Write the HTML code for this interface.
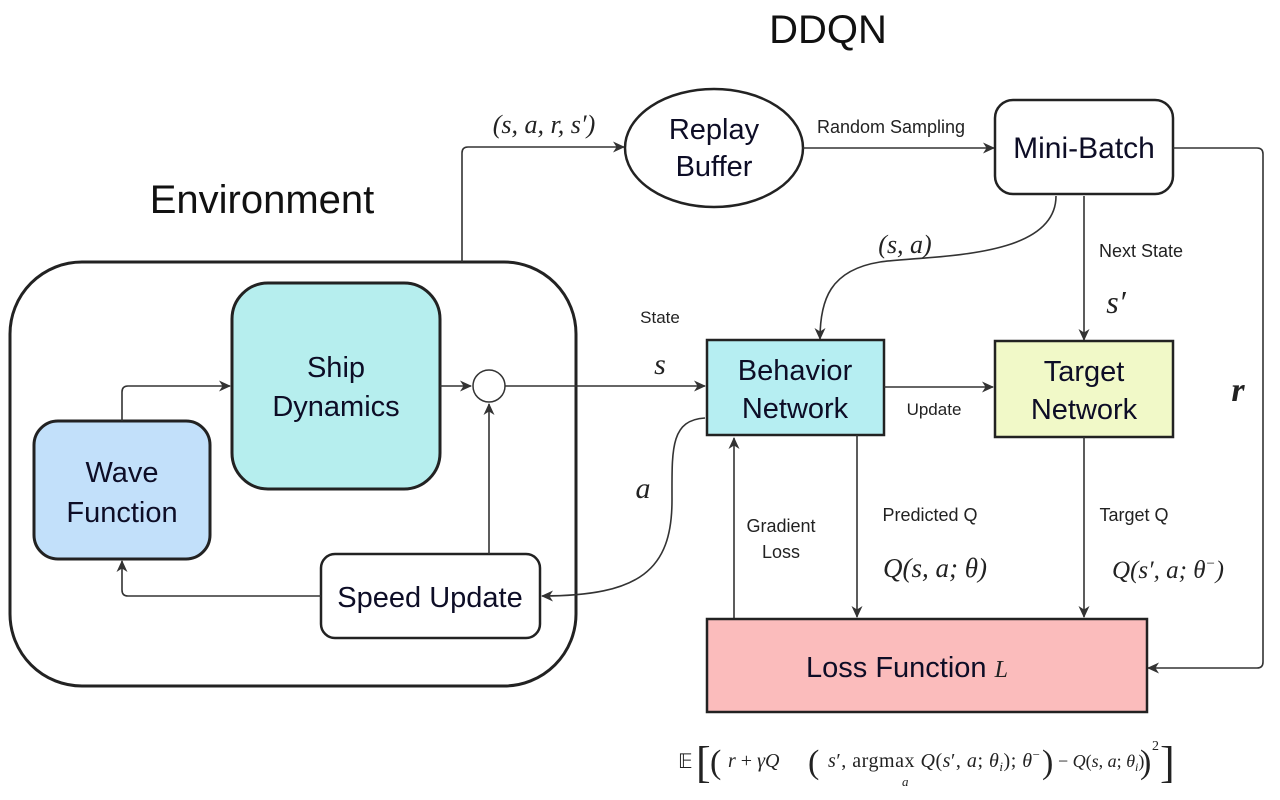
<!DOCTYPE html>
<html><head><meta charset="utf-8"><style>
body{margin:0;background:#fff}
svg{display:block}
.t{font-family:"Liberation Sans",sans-serif;fill:#0d0d26}
.m{font-family:"Liberation Serif",serif;font-style:italic;fill:#222}
</style></head><body>
<svg width="1280" height="800" viewBox="0 0 1280 800" xmlns="http://www.w3.org/2000/svg">
<defs><marker id="a" markerWidth="12" markerHeight="12" refX="11" refY="6" orient="auto" markerUnits="userSpaceOnUse"><path d="M0,0.5 L12,6 L0,11.5 L3.5,6 z" fill="#333"/></marker></defs>
<g stroke="#333" stroke-width="1.6" fill="none">
<rect x="10" y="262" width="566" height="424" rx="72" stroke="#222" stroke-width="3"/>
<rect x="232" y="283" width="208" height="206" rx="36" fill="#b6eeee" stroke="#222" stroke-width="3"/>
<rect x="34" y="421" width="176" height="138" rx="24" fill="#c2e0fa" stroke="#222" stroke-width="3"/>
<circle cx="489" cy="386" r="16" fill="#fff" stroke="#333" stroke-width="1.5"/>
<rect x="321" y="554" width="219" height="84" rx="14" fill="#fff" stroke="#222" stroke-width="2.5"/>
<path d="M122 421 V392 Q122 386 128 386 H230" marker-end="url(#a)"/>
<path d="M440 386 H471" marker-end="url(#a)"/>
<path d="M489 554 V404" marker-end="url(#a)"/>
<path d="M321 596 H128 Q122 596 122 590 V561" marker-end="url(#a)"/>
<path d="M505 386 H705" marker-end="url(#a)"/>
<path d="M462 262 V153 Q462 147 468 147 H624" marker-end="url(#a)"/>
<ellipse cx="714" cy="148" rx="89" ry="59" fill="#fff" stroke="#222" stroke-width="2.5"/>
<path d="M803 148 H994" marker-end="url(#a)"/>
<rect x="995" y="100" width="178" height="94" rx="18" fill="#fff" stroke="#222" stroke-width="2.5"/>
<path d="M1173 148 H1257 Q1263 148 1263 154 V662 Q1263 668 1257 668 H1148" marker-end="url(#a)"/>
<path d="M1056 196 C1056 260 930 255 880 262 C830 270 820 300 820 339" marker-end="url(#a)"/>
<path d="M1084 196 V340" marker-end="url(#a)"/>
<rect x="707" y="340" width="177" height="95" fill="#b6eef2" stroke="#222" stroke-width="2.5"/>
<rect x="995" y="341" width="178" height="96" fill="#f1f9c8" stroke="#222" stroke-width="2.5"/>
<path d="M884 387 H993" marker-end="url(#a)"/>
<path d="M705 418 C670 420 672 450 672 500 C672 570 640 596 542 596" marker-end="url(#a)"/>
<path d="M734 618 V438" marker-end="url(#a)"/>
<path d="M857 435 V617" marker-end="url(#a)"/>
<path d="M1084 437 V617" marker-end="url(#a)"/>
<rect x="707" y="619" width="440" height="93" fill="#fbbcbc" stroke="#222" stroke-width="2.5"/>
</g>
<text x="828" y="43" text-anchor="middle" class="t" font-size="40" style="fill:#111">DDQN</text>
<text x="262" y="213" text-anchor="middle" class="t" font-size="40" style="fill:#111">Environment</text>
<text x="336" y="377" text-anchor="middle" class="t" font-size="29">Ship</text>
<text x="336" y="416" text-anchor="middle" class="t" font-size="29">Dynamics</text>
<text x="122" y="482" text-anchor="middle" class="t" font-size="29">Wave</text>
<text x="122" y="522" text-anchor="middle" class="t" font-size="29">Function</text>
<text x="430" y="607" text-anchor="middle" class="t" font-size="29">Speed Update</text>
<text x="714" y="139" text-anchor="middle" class="t" font-size="29">Replay</text>
<text x="714" y="176" text-anchor="middle" class="t" font-size="29">Buffer</text>
<text x="891" y="133" text-anchor="middle" class="t" font-size="18" style="fill:#222">Random Sampling</text>
<text x="1084" y="158" text-anchor="middle" class="t" font-size="30">Mini-Batch</text>
<text x="795" y="380" text-anchor="middle" class="t" font-size="29">Behavior</text>
<text x="795" y="418" text-anchor="middle" class="t" font-size="29">Network</text>
<text x="1084" y="381" text-anchor="middle" class="t" font-size="29">Target</text>
<text x="1084" y="419" text-anchor="middle" class="t" font-size="29">Network</text>
<text x="934" y="415" text-anchor="middle" class="t" font-size="17" style="fill:#222">Update</text>
<text x="660" y="323" text-anchor="middle" class="t" font-size="17" style="fill:#222">State</text>
<text x="1141" y="257" text-anchor="middle" class="t" font-size="18" style="fill:#222">Next State</text>
<text x="781" y="532" text-anchor="middle" class="t" font-size="18" style="fill:#222">Gradient</text>
<text x="781" y="558" text-anchor="middle" class="t" font-size="18" style="fill:#222">Loss</text>
<text x="930" y="521" text-anchor="middle" class="t" font-size="18" style="fill:#222">Predicted Q</text>
<text x="1134" y="521" text-anchor="middle" class="t" font-size="18" style="fill:#222">Target Q</text>
<text x="907" y="677" text-anchor="middle" class="t" font-size="29">Loss Function <tspan class="m" font-size="24">L</tspan></text>
<text x="544" y="133" text-anchor="middle" class="m" font-size="26">(s, a, r, s′)</text>
<text x="905" y="253" text-anchor="middle" class="m" font-size="26">(s, a)</text>
<text x="1116" y="313" text-anchor="middle" class="m" font-size="32">s′</text>
<text x="660" y="374" text-anchor="middle" class="m" font-size="30">s</text>
<text x="643" y="498" text-anchor="middle" class="m" font-size="30">a</text>
<text x="1238" y="401" text-anchor="middle" class="m" font-size="34" font-weight="bold">r</text>
<text x="935" y="577" text-anchor="middle" class="m" font-size="27">Q(s, a; θ)</text>
<text x="1168" y="578" text-anchor="middle" class="m" font-size="25">Q(s′, a; θ<tspan font-size="15" dy="-10">−</tspan><tspan dy="10">)</tspan></text>
<g font-family="Liberation Serif,serif" fill="#222">
<text x="678" y="768" font-size="20">𝔼</text>
<text x="696" y="777" font-size="44">[</text>
<text x="710" y="773" font-size="34">(</text>
<text x="728" y="767" font-size="20"><tspan font-style="italic">r</tspan> + <tspan font-style="italic">γQ</tspan></text>
<text x="808" y="773" font-size="34">(</text>
<text x="828" y="767" font-size="20" textLength="212"><tspan font-style="italic">s</tspan>′, argmax <tspan font-style="italic">Q</tspan>(<tspan font-style="italic">s</tspan>′, <tspan font-style="italic">a</tspan>; <tspan font-style="italic">θ<tspan font-size="13" dy="4">i</tspan></tspan><tspan dy="-4">); </tspan><tspan font-style="italic">θ</tspan><tspan font-size="13" dy="-8">−</tspan></text>
<text x="902" y="786" font-size="13" font-style="italic">a</text>
<text x="1042" y="773" font-size="34">)</text>
<text x="1058" y="767" font-size="18">− <tspan font-style="italic">Q</tspan>(<tspan font-style="italic">s</tspan>, <tspan font-style="italic">a</tspan>; <tspan font-style="italic">θ<tspan font-size="12" dy="4">i</tspan></tspan><tspan dy="-4">)</tspan></text>
<text x="1140" y="773" font-size="34">)</text>
<text x="1152" y="750" font-size="14">2</text>
<text x="1160" y="777" font-size="44">]</text>
</g>
</svg>
</body></html>
